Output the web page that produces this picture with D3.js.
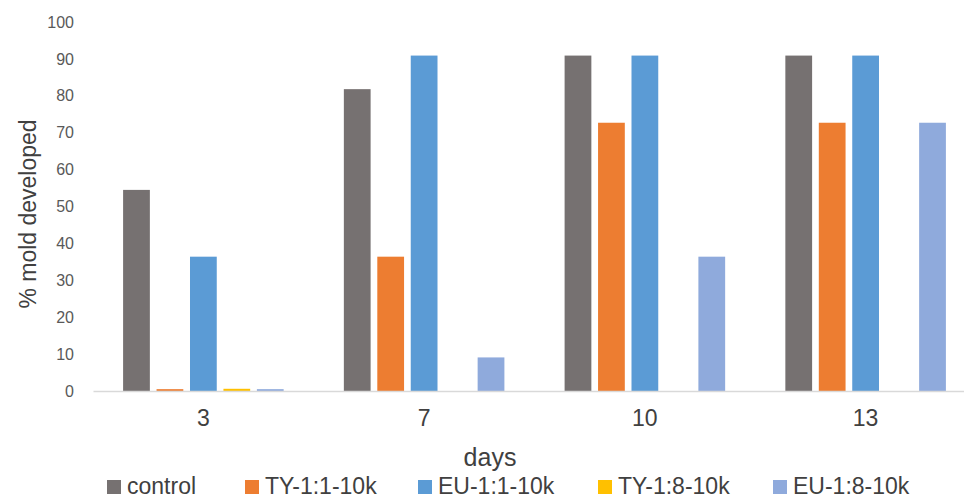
<!DOCTYPE html>
<html><head><meta charset="utf-8">
<script src="https://cdn.jsdelivr.net/npm/d3@7"></script>
<style>
html,body{margin:0;padding:0;background:#fff;}
svg{display:block;}
</style></head>
<body>
<svg id="chart" width="964" height="499"></svg>
<script>
const days = ["3", "7", "10", "13"];
const seriesNames = ["control", "TY-1:1-10k", "EU-1:1-10k", "TY-1:8-10k", "EU-1:8-10k"];
const seriesColors = ["#767171", "#ed7d31", "#5b9bd5", "#ffc000", "#8faadc"];
const control = [54.5, 81.8, 90.9, 90.9];
const ty11 = [0.5, 36.4, 72.7, 72.7];
const eu11 = [36.4, 90.9, 90.9, 90.9];
const ty18 = [0.6, 0, 0, 0];
const eu18 = [0.5, 9.1, 36.4, 72.7];
const yTicks = [0, 10, 20, 30, 40, 50, 60, 70, 80, 90, 100];
const yTitle = "% mold developed";
const xTitle = "days";

const allSeries = [control, ty11, eu11, ty18, eu18];
const svg = d3.select("#chart");
const font = "'Liberation Sans', Arial, sans-serif";

const x0 = d3.scaleBand().domain(days).range([93, 976]).paddingInner(0).paddingOuter(0);
const x1 = d3.scaleBand().domain(seriesNames).range([0, x0.bandwidth()]).paddingInner(0.2).paddingOuter(0.9);
const y = d3.scaleLinear().domain([0, 100]).range([391, 22]);

// y axis labels
const yAxis = d3.axisLeft(y).tickValues(yTicks).tickSize(0).tickPadding(0);
const gy = svg.append("g").attr("transform", "translate(74,0)").call(yAxis);
gy.select(".domain").remove();
gy.selectAll("text").attr("font-family", font).attr("font-size", 16).attr("fill", "#595959");

// bars
const groups = svg.append("g").selectAll("g").data(days).join("g")
  .attr("transform", d => `translate(${x0(d)},0)`);
groups.selectAll("rect")
  .data((d, i) => seriesNames.map((s, j) => ({s, j, v: allSeries[j][i]})))
  .join("rect")
  .attr("x", d => x1(d.s))
  .attr("width", x1.bandwidth())
  .attr("y", d => y(d.v))
  .attr("height", d => y(0) - y(d.v))
  .attr("fill", d => seriesColors[d.j]);

// x axis
const xAxis = d3.axisBottom(x0).tickSize(0).tickPadding(19);
const gx = svg.append("g").attr("transform", `translate(0,${y(0)})`).call(xAxis);
gx.select(".domain").attr("stroke", "#d9d9d9").attr("stroke-width", 1.5);
gx.selectAll("text").attr("font-family", font).attr("font-size", 23).attr("fill", "#404040");

// titles
svg.append("text").attr("x", 490).attr("y", 466).attr("text-anchor", "middle")
  .attr("font-family", font).attr("font-size", 25).attr("fill", "#404040").text(xTitle);
svg.append("text").attr("transform", "translate(36,214) rotate(-90)").attr("text-anchor", "middle")
  .attr("font-family", font).attr("font-size", 23).attr("fill", "#404040").text(yTitle);

// legend
const legendStarts = [107, 245, 418, 598, 773];
const leg = svg.append("g");
seriesNames.forEach((s, i) => {
  const g = leg.append("g").attr("transform", `translate(${legendStarts[i]},494)`);
  g.append("rect").attr("x", 0).attr("y", -14).attr("width", 14).attr("height", 14).attr("fill", seriesColors[i]);
  g.append("text").attr("x", 20).attr("y", 0).attr("font-family", font).attr("font-size", 23)
    .attr("fill", "#404040").text(s);
});
</script>
</body></html>
